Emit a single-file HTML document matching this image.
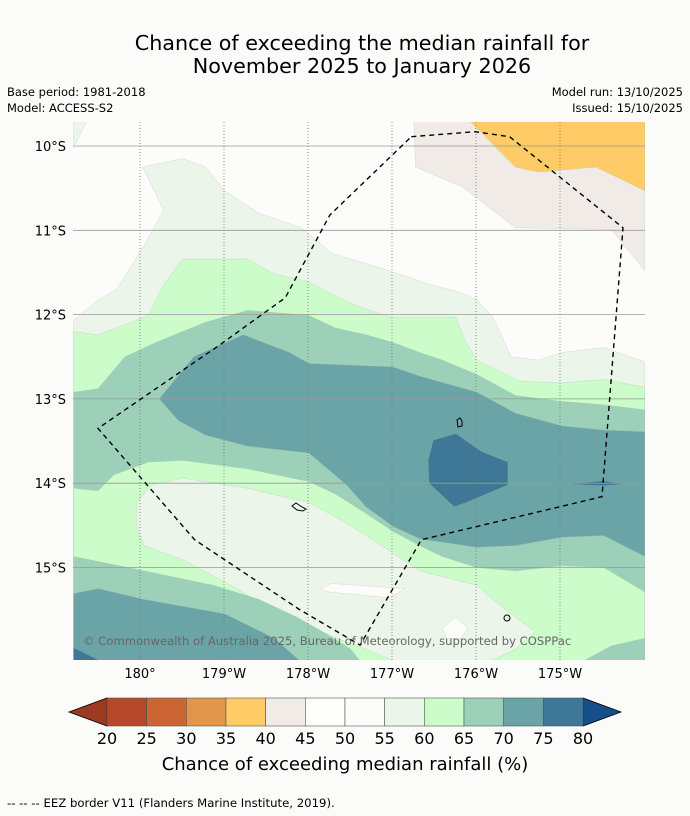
<!DOCTYPE html>
<html><head><meta charset="utf-8"><style>
html,body{margin:0;padding:0;background:#fbfcfa;}
svg{display:block;font-family:"DejaVu Sans","Liberation Sans",sans-serif;}
</style></head><body>
<svg id="fig" width="690" height="816" viewBox="0 0 690 816" xmlns="http://www.w3.org/2000/svg">
<rect width="690" height="816" fill="#fbfcfa"/>
<text x="362" y="50" font-size="20.7" text-anchor="middle" fill="#000">Chance of exceeding the median rainfall for</text>
<text x="362" y="73" font-size="20.7" text-anchor="middle" fill="#000">November 2025 to January 2026</text>
<text x="7" y="96" font-size="11.5">Base period: 1981-2018</text>
<text x="7" y="112" font-size="11.5">Model: ACCESS-S2</text>
<text x="683" y="96" font-size="11.5" text-anchor="end">Model run: 13/10/2025</text>
<text x="683" y="112" font-size="11.5" text-anchor="end">Issued: 15/10/2025</text>
<defs><clipPath id="mapclip"><rect x="73" y="122" width="572" height="538"/></clipPath></defs>
<g id="map" clip-path="url(#mapclip)"></g>
<g id="axes"></g>
<g id="cbar"></g>
<text x="345" y="770" font-size="18" text-anchor="middle">Chance of exceeding median rainfall (%)</text>
<text x="7" y="807" font-size="11.7">--  --  -- EEZ border V11 (Flanders Marine Institute, 2019).</text>
</svg>
<script>
// longitude in degrees west of 180 (negative = east), latitude in degrees south
const lonTicks=[0,1,2,3,4,5];
const lonLabels=["180°","179°W","178°W","177°W","176°W","175°W"];
const latTicks=[10,11,12,13,14,15];
const latLabels=["10°S","11°S","12°S","13°S","14°S","15°S"];
const levels=[20,25,30,35,40,45,50,55,60,65,70,75,80];
const levelColors=["#b5472a","#cb6634","#e0964a","#ffcb66","#f0ebe6","#fdfdfc","#fcfdfb","#ebf5ea","#cbfcca","#9dd0b9","#6ba4a7","#3f7796"];
const underColor="#9e3a22", overColor="#154e88";
const region55top=[[-0.79,12.07],[-0.52,11.84],[-0.27,11.69],[0.05,11.18],[0.28,10.76],[0.03,10.25],[0.51,10.15],[0.78,10.25],[1.01,10.53],[1.42,10.80],[1.92,10.97],[2.28,11.27],[2.97,11.48],[3.47,11.65],[3.79,11.73],[4.01,11.82],[4.20,12.03],[4.42,12.50],[4.74,12.54],[5.02,12.45],[5.52,12.39],[6.01,12.56],[6.01,16.2],[-0.79,16.2]];
const region55corner=[[-0.79,9.7],[-0.63,9.7],[-0.79,10.02]];
const region60=[[-0.79,12.20],[-0.50,12.24],[-0.18,12.12],[0.10,12.01],[0.28,11.65],[0.51,11.34],[1.28,11.34],[1.60,11.52],[2.01,11.61],[2.33,11.78],[2.60,11.90],[2.97,12.03],[3.76,12.03],[3.88,12.33],[4.01,12.54],[4.52,12.79],[5.02,12.81],[5.52,12.77],[6.01,12.86],[6.01,16.2],[-0.79,16.2]];
const region65=[[-0.79,12.92],[-0.50,12.88],[-0.18,12.50],[0.19,12.33],[0.78,12.09],[1.28,11.95],[2.01,12.01],[2.33,12.16],[2.69,12.24],[3.01,12.33],[3.33,12.45],[3.60,12.54],[4.01,12.71],[4.47,12.96],[5.02,13.03],[5.52,13.07],[6.01,13.13],[6.01,16.2],[-0.79,16.2]];
const region70=[[0.23,13.00],[0.64,12.50],[1.23,12.24],[1.78,12.45],[2.01,12.58],[3.01,12.62],[3.33,12.73],[4.01,12.92],[4.47,13.17],[5.02,13.32],[5.52,13.37],[6.01,13.39],[6.01,14.87],[5.52,14.62],[5.02,14.64],[4.47,14.74],[4.01,14.76],[3.33,14.66],[3.01,14.51],[2.69,14.28],[2.46,14.02],[2.01,13.64],[1.28,13.56],[0.78,13.43],[0.46,13.26]];
const region75a=[[3.49,13.49],[3.76,13.41],[4.06,13.62],[4.38,13.75],[4.38,14.02],[3.88,14.23],[3.74,14.28],[3.44,14.00],[3.43,13.73]];
const region75b=[[5.11,14.01],[5.52,13.97],[5.74,14.01],[5.52,14.03]];
const region60low=[[-0.79,14.06],[-0.50,14.09],[-0.31,13.90],[0.10,13.75],[0.51,13.73],[1.28,13.83],[2.01,13.98],[2.33,14.13],[2.69,14.36],[3.01,14.57],[3.33,14.74],[3.60,14.87],[4.01,15.00],[4.47,15.04],[5.02,14.98],[5.52,15.00],[6.01,15.29],[6.01,16.2],[-0.79,16.2]];
const region55low=[[-0.04,14.23],[0.14,14.02],[0.51,13.94],[1.28,14.06],[2.01,14.23],[2.33,14.40],[2.69,14.62],[3.01,14.83],[3.33,15.04],[4.01,15.21],[4.20,15.38],[4.47,15.59],[4.70,15.76],[4.47,15.97],[4.20,16.10],[3.01,16.10],[2.69,15.97],[2.24,15.80],[1.60,15.51],[1.01,15.17],[0.51,14.91],[0.05,14.74],[-0.04,14.51]];
const region50a=[[2.15,15.25],[2.28,15.19],[3.15,15.25],[2.97,15.36],[2.24,15.29]];
const region50b=[[3.60,15.72],[3.76,15.59],[3.90,15.72],[3.83,15.84],[3.65,15.84]];
const region65low=[[-0.79,14.87],[0.05,15.04],[0.87,15.21],[1.42,15.38],[1.87,15.59],[2.24,15.80],[2.51,15.97],[2.69,16.20],[-0.79,16.20]];
const region70low=[[-0.79,15.31],[-0.50,15.25],[0.05,15.38],[1.01,15.55],[1.60,15.84],[2.01,16.20],[-0.79,16.20]];
const region75low=[[-0.79,15.95],[-0.45,16.12],[-0.79,16.12]];
const region65br=[[5.11,16.20],[5.61,15.93],[6.01,15.84],[6.01,16.20]];
const regionBeige=[[3.26,9.7],[3.28,10.25],[3.83,10.48],[4.47,10.97],[5.61,10.99],[6.01,11.48],[6.01,9.7]];
const regionOrange=[[3.92,9.7],[4.47,10.25],[4.74,10.31],[5.43,10.25],[6.01,10.53],[6.01,9.7]];
const regions=[[7,region55top,"contour-55-60-north"],[7,region55corner,"contour-55-60-corner"],[8,region60,"contour-60-65"],[9,region65,"contour-65-70"],[10,region70,"contour-70-75"],[11,region75a,"contour-75-80-east"],[11,region75b,"contour-75-80-thin"],[8,region60low,"contour-60-65-south"],[7,region55low,"contour-55-60-south"],[6,region50a,"contour-50-55-patch"],[6,region50b,"contour-50-55-small"],[9,region65low,"contour-65-70-southwest"],[10,region70low,"contour-70-75-southwest"],[11,region75low,"contour-75-80-southwest"],[9,region65br,"contour-65-70-southeast"],[4,regionBeige,"contour-40-45"],[3,regionOrange,"contour-35-40"]];
const eezLon=[3.23,3.99,4.40,5.75,5.50,3.35,2.62,1.90,0.65,-0.50,0.95,1.73,2.26,3.23];
const eezLat=[9.89,9.83,9.89,10.97,14.16,14.67,15.92,15.50,14.67,13.35,12.36,11.80,10.82,9.89];

const NS="http://www.w3.org/2000/svg";
const xOf=l=>140+84*l;
const yOf=p=>146+84.3*(p-10);
function mk(tag,attrs,parent){const e=document.createElementNS(NS,tag);for(const k in attrs)e.setAttribute(k,attrs[k]);parent.appendChild(e);return e;}
const map=document.getElementById('map');
const bg=mk('rect',{x:73,y:122,width:572,height:538,fill:levelColors[6]},map);


regions.forEach(r=>{
  const pts=r[1].map(v=>xOf(v[0]).toFixed(1)+','+yOf(v[1]).toFixed(1)).join(' ');
  const p=mk('polygon',{points:pts,fill:levelColors[r[0]],stroke:'#9bb3a0','stroke-width':0.4,'stroke-opacity':0.5},map);
  
  
});
latTicks.forEach((t,i)=>{
  const l=mk('line',{x1:73,x2:645,y1:yOf(t),y2:yOf(t),stroke:'#999','stroke-width':0.8},map);
  
  
});
lonTicks.forEach((t,i)=>{
  const l=mk('line',{x1:xOf(t),x2:xOf(t),y1:122,y2:660,stroke:'#777','stroke-width':0.8,'stroke-dasharray':'1,2'},map);
  
  
});
const isl=mk('path',{d:'M457,420 l3,-2 l2,3 l0,5 l-4,1 z M292,506 l4,-3 l6,4 l4,2 l-3,2 l-6,-1 z',fill:'none',stroke:'#000','stroke-width':1},map);


const isl2=mk('circle',{cx:507,cy:618,r:3,fill:'none',stroke:'#000','stroke-width':1},map);


const eez=mk('polyline',{points:eezLon.map((l,i)=>xOf(l).toFixed(1)+','+yOf(eezLat[i]).toFixed(1)).join(' '),fill:'none',stroke:'#000','stroke-width':1.4,'stroke-dasharray':'5,4'},map);


const cp=mk('text',{x:83,y:645,'font-size':11.6,fill:'#666'},map);
cp.textContent='© Commonwealth of Australia 2025, Bureau of Meteorology, supported by COSPPac';


const axes=document.getElementById('axes');
lonTicks.forEach((t,i)=>{
  const tx=mk('text',{x:xOf(t),y:678,'font-size':13,'text-anchor':'middle'},axes);
  tx.textContent=lonLabels[i];
  
  
});
latTicks.forEach((t,i)=>{
  const tx=mk('text',{x:66,y:yOf(t)+5,'font-size':13,'text-anchor':'end'},axes);
  tx.textContent=latLabels[i];
  
  
});
const cb=document.getElementById('cbar');
const cbL=107,cbR=583,cbT=698,cbB=726,cbW=(cbR-cbL)/levelColors.length;
const under=mk('polygon',{points:`${cbL},${cbT} ${cbL},${cbB} 69,${(cbT+cbB)/2}`,fill:underColor,stroke:'#000','stroke-width':0.8},cb);


const over=mk('polygon',{points:`${cbR},${cbT} ${cbR},${cbB} 621,${(cbT+cbB)/2}`,fill:overColor,stroke:'#000','stroke-width':0.8},cb);


levelColors.forEach((c,i)=>{
  const r=mk('rect',{x:cbL+i*cbW,y:cbT,width:cbW,height:cbB-cbT,fill:c,stroke:'#555','stroke-width':0.6},cb);
  
  
});
levels.forEach((v,i)=>{
  const tx=mk('text',{x:cbL+i*cbW,y:744,'font-size':16,'text-anchor':'middle'},cb);
  tx.textContent=v;
  
  
});
</script>
</body></html>
